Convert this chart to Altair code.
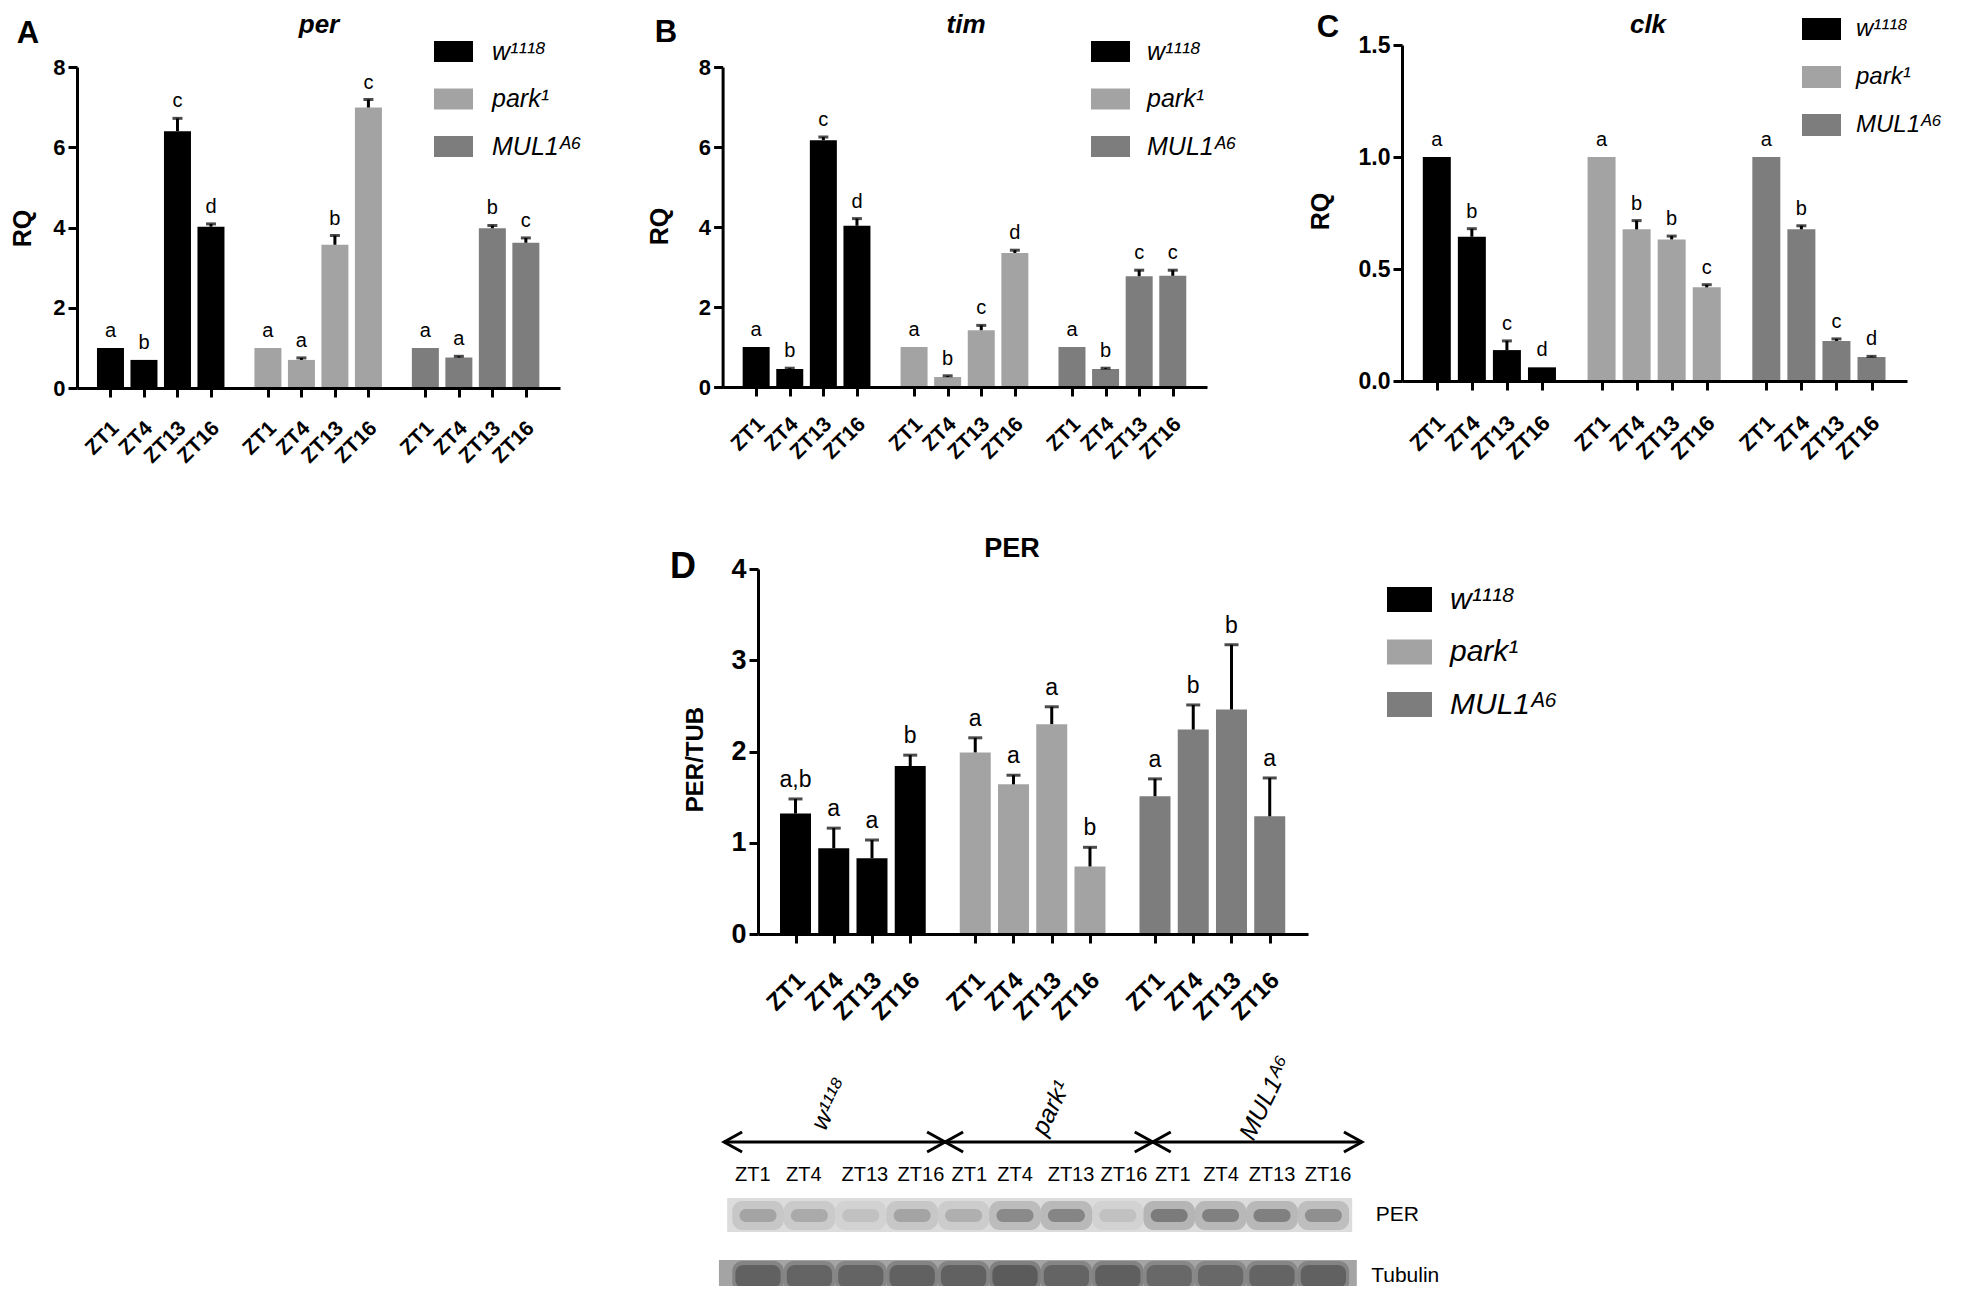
import altair as alt
import pandas as pd

# ---------------- data ----------------
genotypes = ["w¹¹¹⁸", "park¹", "MUL1ᴬ⁶"]
genotype_colors = ["#000000", "#a3a3a3", "#7d7d7d"]
zt_labels = ["ZT1", "ZT4", "ZT13", "ZT16"]

# A: per mRNA (RQ)  rows = genotypes, cols = ZT
per_mean = [[1.00, 0.70, 6.40, 4.02], [1.00, 0.70, 3.57, 6.99], [1.00, 0.76, 3.98, 3.62]]
per_upper = [[1.00, 0.70, 6.72, 4.09], [1.00, 0.75, 3.80, 7.19], [1.00, 0.79, 4.05, 3.74]]
per_letters = [["a", "b", "c", "d"], ["a", "a", "b", "c"], ["a", "a", "b", "c"]]

# B: tim mRNA (RQ)
tim_mean = [[1.00, 0.45, 6.17, 4.03], [1.00, 0.25, 1.42, 3.35], [1.00, 0.45, 2.77, 2.78]]
tim_upper = [[1.00, 0.47, 6.25, 4.21], [1.00, 0.28, 1.54, 3.42], [1.00, 0.47, 2.92, 2.92]]
tim_letters = [["a", "b", "c", "d"], ["a", "b", "c", "d"], ["a", "b", "c", "c"]]

# C: clk mRNA (RQ)
clk_mean = [[1.00, 0.644, 0.138, 0.061], [1.00, 0.677, 0.632, 0.418], [1.00, 0.677, 0.179, 0.107]]
clk_upper = [[1.00, 0.680, 0.179, 0.061], [1.00, 0.716, 0.647, 0.430], [1.00, 0.693, 0.188, 0.110]]
clk_letters = [["a", "b", "c", "d"], ["a", "b", "b", "c"], ["a", "b", "c", "d"]]

# D: PER protein (PER/TUB)
perp_mean = [[1.32, 0.94, 0.83, 1.84], [1.99, 1.64, 2.30, 0.74], [1.51, 2.24, 2.46, 1.29]]
perp_upper = [[1.48, 1.16, 1.03, 1.96], [2.15, 1.74, 2.49, 0.95], [1.70, 2.51, 3.17, 1.71]]
perp_letters = [["a,b", "a", "a", "b"], ["a", "a", "a", "b"], ["a", "b", "b", "a"]]

# Western blot band darkness per lane (12 lanes: 3 genotypes x 4 ZT)
blot_per = [0.45, 0.40, 0.20, 0.45, 0.35, 0.70, 0.75, 0.20, 0.85, 0.80, 0.80, 0.65]
blot_tub = [0.85, 0.80, 0.80, 0.85, 0.85, 0.95, 0.80, 0.90, 0.75, 0.75, 0.80, 0.85]
blot_rows = ["PER", "Tubulin"]

# ---------------- layout ----------------
FONT = "Liberation Sans"
NARROW = "Liberation Sans Narrow, Liberation Sans"
OX = OY = 8
PLOT_W, PLOT_H = 1945, 1278

POS_VALUES = [g * 47 + i * 10 for g in range(3) for i in range(4)]
LABEL_EXPR = "[" + ",".join("'%s'" % z for z in zt_labels) + "][(datum.value % 47) / 10]"


def make_df(mean, upper, letters):
    rows = []
    for g, geno in enumerate(genotypes):
        for i, zt in enumerate(zt_labels):
            rows.append({"genotype": geno, "zt": zt, "pos": g * 47 + i * 10,
                         "value": mean[g][i], "upper": upper[g][i],
                         "top": max(mean[g][i], upper[g][i]),
                         "letter": letters[g][i]})
    return pd.DataFrame(rows)


def rect_path(w, h):
    r = h / w
    return "M-1,%.3fH1V%.3fH-1Z" % (-r, r)


def panel(df, L):
    xs = alt.Scale(domain=[-8.5, 132.7], range=[L["x0"] - OX, L["x1"] - OX], nice=False, zero=False)
    ys = alt.Scale(domain=[0, L["ymax"]], range=[L["y0"] - OY, L["ytop"] - OY], nice=False, zero=False)
    xaxis = alt.Axis(orient="bottom", offset=(L["y0"] - OY) - PLOT_H, values=POS_VALUES,
                     labelExpr=LABEL_EXPR, title=None, grid=False,
                     domainWidth=3, domainColor="black", tickWidth=3, tickColor="black", tickSize=9,
                     labelAngle=315, labelAlign="right", labelBaseline="top",
                     labelPadding=L["xpad"], labelOffset=-3, labelFont=FONT, labelFontWeight="bold",
                     labelFontSize=L["xfs"], labelColor="black", labelOverlap=False, labelFlush=False,
                     zindex=1)
    yaxis = alt.Axis(orient="left", offset=-(L["x0"] - OX), values=L["yticks"], format=L["fmt"],
                     title=L["ytitle"], titleX=L["tx"] - L["x0"], titleY=L["ty"] - OY,
                     titleAngle=270, titleAlign="center", titleBaseline="middle",
                     titleFont=FONT, titleFontWeight="bold", titleFontSize=L["tfs"], titleColor="black",
                     grid=False, domainWidth=3, domainColor="black", tickWidth=3, tickColor="black",
                     tickSize=9, labelPadding=3, labelFont=FONT, labelFontWeight="bold",
                     labelFontSize=L["yfs"], labelColor="black", labelOverlap=False, labelFlush=False,
                     zindex=1)
    legend = alt.Legend(orient="none", legendX=L["lx"] - OX, legendY=L["ly"], title=None,
                        symbolType=rect_path(L["sw"], L["sh"]), symbolSize=L["sw"] ** 2,
                        symbolStrokeWidth=0, symbolOpacity=1, labelFont=FONT, labelFontStyle="italic",
                        labelFontSize=L["lfs"], labelColor="black", labelOffset=L["loff"],
                        rowPadding=L["rowpad"], padding=0, labelLimit=400)
    X = alt.X("pos:Q", scale=xs, axis=xaxis)
    base = alt.Chart(df)
    bars = base.mark_bar(size=L["bw"]).encode(
        x=X, y=alt.Y("value:Q", scale=ys, axis=yaxis),
        color=alt.Color("genotype:N", scale=alt.Scale(domain=genotypes, range=genotype_colors), legend=legend))
    errs = base.transform_filter("datum.upper > datum.value")
    whisk = errs.mark_rule(strokeWidth=3, color="black").encode(
        x=X, y=alt.Y("value:Q", scale=ys, axis=yaxis), y2="upper:Q")
    cap = errs.mark_tick(orient="horizontal", size=L["capw"], thickness=3, color="black").encode(
        x=X, y=alt.Y("upper:Q", scale=ys, axis=yaxis))
    letters = base.mark_text(font=FONT, fontSize=L["afs"], baseline="alphabetic", align="center",
                             dy=L["ady"], color="black").encode(
        x=X, y=alt.Y("top:Q", scale=ys, axis=yaxis), text="letter:N")
    title = alt.Chart(pd.DataFrame({"t": [L["title"]]})).mark_text(
        font=FONT, fontWeight="bold", fontStyle=L["tstyle"], fontSize=L["hfs"], align="center",
        baseline="alphabetic", color="black").encode(
        text="t:N", x=alt.value(L["hx"] - OX), y=alt.value(L["hy"] - OY))
    tag = alt.Chart(pd.DataFrame({"t": [L["tag"]]})).mark_text(
        font=FONT, fontWeight="bold", fontSize=L["gfs"], align="center", baseline="alphabetic",
        color="black").encode(text="t:N", x=alt.value(L["gx"] - OX), y=alt.value(L["gy"] - OY))
    return alt.layer(bars, whisk, cap, letters, title, tag)


LA = dict(x0=77, x1=560, y0=388, ytop=67, ymax=8, yticks=[0, 2, 4, 6, 8], fmt="d",
          ytitle="RQ", tx=22, ty=228, tfs=25, yfs=22, xfs=21, xpad=20, bw=27, capw=10, afs=20, ady=-11,
          lx=434, ly=24, sw=39, sh=21, lfs=25, loff=19, rowpad=14.5,
          title="per", tstyle="italic", hfs=26, hx=319, hy=33, tag="A", gfs=31, gx=28, gy=43)
LB = dict(LA, x0=722.6, x1=1207, y0=387, ytop=67, tx=659, ty=226, xpad=17,
          lx=1091, loff=17, title="tim", hx=966, tag="B", gx=666, gy=42)
LC = dict(LA, x0=1402, x1=1907, y0=381, ytop=45, ymax=1.5, yticks=[0, 0.5, 1.0, 1.5], fmt=".1f",
          tx=1320, ty=211, yfs=23, xfs=22, xpad=22, bw=28, afs=20,
          lx=1802, ly=1.5, sh=22, rowpad=16, loff=15, lfs=24,
          title="clk", hx=1648, tag="C", gx=1328, gy=37)
LD = dict(LA, x0=758, x1=1308, y0=934, ytop=569, ymax=4, yticks=[0, 1, 2, 3, 4], fmt="d",
          ytitle="PER/TUB", tx=695, ty=759, tfs=24, yfs=27, xfs=24, xpad=25, bw=31, capw=14, afs=23, ady=-12,
          lx=1387, ly=569, sw=45, sh=25, lfs=30, loff=18, rowpad=14.5,
          title="PER", tstyle="normal", hfs=27, hx=1012, hy=557, tag="D", gfs=36, gx=683, gy=578)

pA = panel(make_df(per_mean, per_upper, per_letters), LA)
pB = panel(make_df(tim_mean, tim_upper, tim_letters), LB)
pC = panel(make_df(clk_mean, clk_upper, clk_letters), LC)
pD = panel(make_df(perp_mean, perp_upper, perp_letters), LD)

# ---------------- western blot ----------------
LANE0, LANE_STEP = 758 - OX, 51.4
lane_scale = alt.Scale(domain=[-1, 12], range=[LANE0 - LANE_STEP, LANE0 + 12 * LANE_STEP], nice=False, zero=False)
BY0 = 1080 - OY
blot_y = alt.Scale(domain=[0, 220], range=[BY0, BY0 + 220], nice=False, zero=False)


def bx(f):
    return alt.X(f, scale=lane_scale, axis=None)


def by(f):
    return alt.Y(f, scale=blot_y, axis=None)


strips_df = pd.DataFrame({"row": blot_rows, "x0": [-0.60, -0.76], "x1": [11.56, 11.65],
                          "y0": [118, 180], "y1": [152, 213], "fill": ["#dcdcdc", "#a4a4a4"]})
band_rows = []
for i in range(12):
    # PER band: soft halo + core
    band_rows.append({"x0": i - 0.36, "x1": i + 0.36, "h0": i - 0.50, "h1": i + 0.50,
                      "y0": 129, "y1": 142, "hy0": 121, "hy1": 150,
                      "op": 0.55 * blot_per[i], "hop": 0.28 * blot_per[i]})
    # Tubulin band
    band_rows.append({"x0": i - 0.44, "x1": i + 0.44, "h0": i - 0.50, "h1": i + 0.50,
                      "y0": 185, "y1": 208, "hy0": 181, "hy1": 212,
                      "op": 0.55 * blot_tub[i], "hop": 0.35 * blot_tub[i]})
bands_df = pd.DataFrame(band_rows)
arrows_df = pd.DataFrame({"x0": [-0.66, 3.64, 7.68], "x1": [3.64, 7.68, 11.75], "y": [62, 62, 62]})
lanes_df = pd.DataFrame({"x": [-0.10, 0.89, 2.08, 3.17, 4.11, 5.00, 6.09, 7.12, 8.07, 9.01, 10.0, 11.09],
                         "label": [zt_labels[i % 4] for i in range(12)], "y": [95] * 12})
geno_df = pd.DataFrame({"label": genotypes, "x": [1.40, 5.70, 9.88], "y": [24, 28, 18]})
rowlab_df = pd.DataFrame({"label": blot_rows, "x": [12.02, 11.93], "y": [135, 196]})

strips = alt.Chart(strips_df).mark_rect().encode(
    x=bx("x0:Q"), x2="x1:Q", y=by("y0:Q"), y2="y1:Q", color=alt.Color("fill:N", scale=None))
halo = alt.Chart(bands_df).mark_rect(color="#3a3a3a", cornerRadius=10).encode(
    x=bx("h0:Q"), x2="h1:Q", y=by("hy0:Q"), y2="hy1:Q", opacity=alt.Opacity("hop:Q", scale=None))
core = alt.Chart(bands_df).mark_rect(color="#3a3a3a", cornerRadius=8).encode(
    x=bx("x0:Q"), x2="x1:Q", y=by("y0:Q"), y2="y1:Q", opacity=alt.Opacity("op:Q", scale=None))
lines = alt.Chart(arrows_df).mark_rule(strokeWidth=3, color="black").encode(
    x=bx("x0:Q"), x2="x1:Q", y=by("y:Q"))
head_l = alt.Chart(arrows_df).mark_point(shape="M1.8,-1L0,0L1.8,1", size=400, filled=False,
                                         strokeWidth=3, color="black", opacity=1).encode(
    x=bx("x0:Q"), y=by("y:Q"))
head_r = alt.Chart(arrows_df).mark_point(shape="M-1.8,-1L0,0L-1.8,1", size=400, filled=False,
                                         strokeWidth=3, color="black", opacity=1).encode(
    x=bx("x1:Q"), y=by("y:Q"))
lane_text = alt.Chart(lanes_df).mark_text(font=NARROW, fontSize=20, align="center", baseline="middle",
                                          color="black").encode(x=bx("x:Q"), y=by("y:Q"), text="label:N")
geno_text = alt.Chart(geno_df).mark_text(font=NARROW, fontSize=25, fontStyle="italic", angle=296,
                                         align="center", baseline="middle", color="black").encode(
    x=bx("x:Q"), y=by("y:Q"), text="label:N")
row_text = alt.Chart(rowlab_df).mark_text(font=NARROW, fontSize=21, align="left", baseline="middle",
                                          color="black").encode(x=bx("x:Q"), y=by("y:Q"), text="label:N")
blot = alt.layer(strips, halo, core, lines, head_l, head_r, lane_text, geno_text, row_text)

chart = alt.layer(pA, pB, pC, pD, blot).resolve_scale(
    x="independent", y="independent", color="independent", opacity="independent"
).resolve_axis(x="independent", y="independent").resolve_legend(color="independent").properties(
    width=PLOT_W, height=PLOT_H, padding=0, autosize=alt.AutoSizeParams(type="none"),
    background="white"
).configure_view(stroke=None)

chart.save("out.html", embed_options={"renderer": "svg", "actions": False})
